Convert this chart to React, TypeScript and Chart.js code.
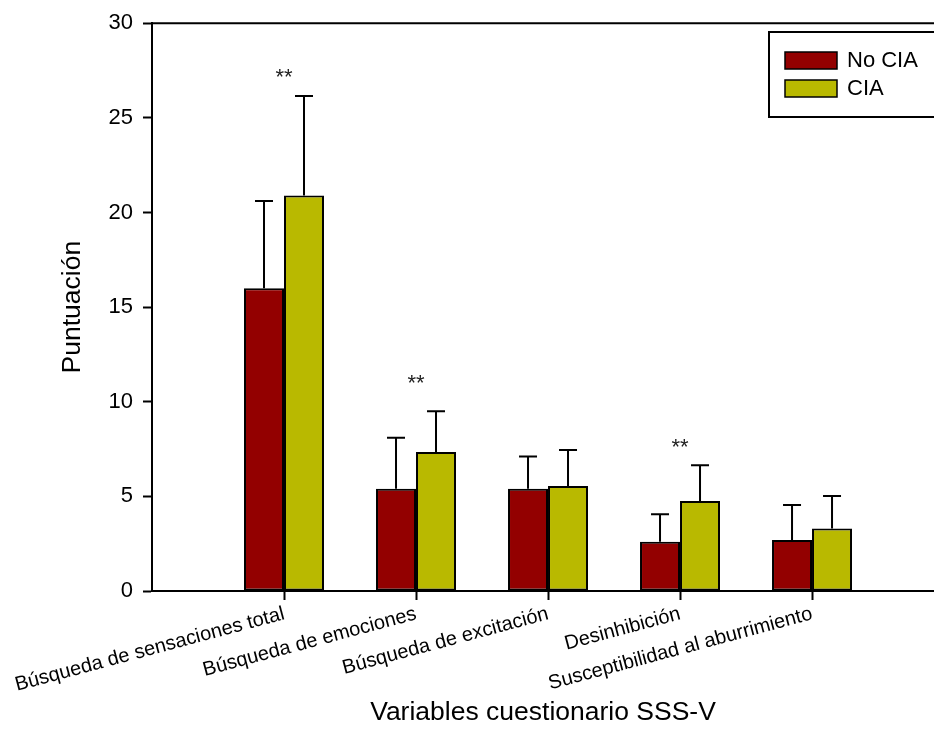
import React, { useEffect, useRef } from 'react';
import { Chart, registerables } from 'chart.js';

Chart.register(...registerables);

const categories = [
  'Búsqueda de sensaciones total',
  'Búsqueda de emociones',
  'Búsqueda de excitación',
  'Desinhibición',
  'Susceptibilidad al aburrimiento',
];
const seriesNames = ['No CIA', 'CIA'];
const noCIA = [16.0, 5.4, 5.4, 2.6, 2.7];
const noCIASd = [4.6, 2.7, 1.7, 1.45, 1.85];
const cia = [20.9, 7.35, 5.55, 4.75, 3.3];
const ciaSd = [5.25, 2.15, 1.9, 1.9, 1.72];
const significance = ['**', '**', '', '**', ''];
const significanceLevel = [27.5, 11.3, 0, 7.9, 0];
const yTickValues = [0, 5, 10, 15, 20, 25, 30];

const RED = '#930000';
const YELLOW = '#B9B900';
const FONT = '"Liberation Sans", Arial, sans-serif';

const W = 934;
const H = 753;

export default function App() {
  const ref = useRef<HTMLCanvasElement | null>(null);

  useEffect(() => {
    const canvas = ref.current;
    if (!canvas) return;
    const sds = [noCIASd, ciaSd];
    const colors = [RED, YELLOW];

    const overlay = {
      id: 'overlay',
      afterDatasetsDraw(chart: any) {
        const { ctx, chartArea, scales } = chart;
        const y = scales.y;
        const x = scales.x;
        ctx.save();
        ctx.strokeStyle = '#000';
        ctx.lineWidth = 2;
        // error bars
        chart.data.datasets.forEach((ds: any, di: number) => {
          const meta = chart.getDatasetMeta(di);
          meta.data.forEach((bar: any, i: number) => {
            const v = ds.data[i].y;
            const top = y.getPixelForValue(v + sds[di][i]);
            ctx.beginPath();
            ctx.moveTo(bar.x, bar.y);
            ctx.lineTo(bar.x, top);
            ctx.moveTo(bar.x - 9, top);
            ctx.lineTo(bar.x + 9, top);
            ctx.stroke();
          });
        });
        // top frame line
        ctx.beginPath();
        ctx.moveTo(chartArea.left, chartArea.top);
        ctx.lineTo(chartArea.right + 5, chartArea.top);
        ctx.stroke();
        // significance markers
        ctx.fillStyle = '#222';
        ctx.font = `22px ${FONT}`;
        ctx.textAlign = 'center';
        ctx.textBaseline = 'alphabetic';
        significance.forEach((s, i) => {
          if (!s) return;
          const px = x.getPixelForValue(i + 1);
          const py = y.getPixelForValue(significanceLevel[i]);
          ctx.fillText(s, px, py + 13);
        });
        // legend
        const lx = 769;
        const ly = 32;
        ctx.lineWidth = 2;
        ctx.strokeRect(lx, ly, chartArea.right + 20 - lx, 85);
        ctx.font = `22px ${FONT}`;
        ctx.textAlign = 'left';
        ctx.textBaseline = 'middle';
        seriesNames.forEach((name, i) => {
          const sy = 52 + i * 28;
          ctx.fillStyle = colors[i];
          ctx.fillRect(785, sy, 52, 17);
          ctx.lineWidth = 1.5;
          ctx.strokeRect(785, sy, 52, 17);
          ctx.fillStyle = '#000';
          ctx.fillText(name, 847, sy + 9);
        });
        ctx.restore();
      },
    };

    const chart = new Chart(canvas, {
      type: 'bar',
      data: {
        datasets: [
          {
            label: seriesNames[0],
            data: noCIA.map((v, i) => ({ x: i + 1, y: v })),
            backgroundColor: RED,
            borderColor: '#000',
            borderWidth: 2,
            borderSkipped: false,
            categoryPercentage: 0.606,
            barPercentage: 1.0,
          },
          {
            label: seriesNames[1],
            data: cia.map((v, i) => ({ x: i + 1, y: v })),
            backgroundColor: YELLOW,
            borderColor: '#000',
            borderWidth: 2,
            borderSkipped: false,
            categoryPercentage: 0.606,
            barPercentage: 1.0,
          },
        ],
      },
      options: {
        responsive: false,
        animation: false,
        layout: { padding: { top: 20, left: 0, right: 0, bottom: 0 } },
        plugins: {
          legend: { display: false },
          tooltip: { enabled: false },
        },
        scales: {
          x: {
            type: 'linear',
            min: 0,
            max: 5.924,
            offset: false,
            grid: {
              display: true,
              drawOnChartArea: false,
              drawTicks: true,
              tickLength: 9,
              tickWidth: 2,
              tickColor: (c: any) => (c.tick && c.tick.value === 0 ? 'rgba(0,0,0,0)' : '#000'),
              offset: false,
            },
            border: { display: true, color: '#000', width: 2 },
            ticks: {
              stepSize: 1,
              includeBounds: false,
              autoSkip: false,
              minRotation: 15,
              maxRotation: 15,
              padding: 2,
              color: '#000',
              font: { family: FONT, size: 20 },
              callback: (v: any) => categories[Number(v) - 1] ?? '',
            },
            title: {
              display: true,
              text: 'Variables cuestionario SSS-V',
              color: '#000',
              font: { family: FONT, size: 26.5 },
              padding: { top: 0, bottom: 24 },
            },
            afterFit: (s: any) => {
              s.height = 162;
            },
          },
          y: {
            min: 0,
            max: 30,
            grid: {
              display: true,
              drawOnChartArea: false,
              drawTicks: true,
              tickLength: 9,
              tickWidth: 2,
              tickColor: '#000',
            },
            border: { display: true, color: '#000', width: 2 },
            afterBuildTicks: (s: any) => {
              s.ticks = yTickValues.map((v) => ({ value: v }));
            },
            ticks: {
              stepSize: 5,
              padding: 10,
              color: '#000',
              font: { family: FONT, size: 22 },
            },
            title: {
              display: true,
              text: 'Puntuación',
              color: '#000',
              font: { family: FONT, size: 26.5 },
              padding: { top: 57, bottom: 0 },
            },
            afterFit: (s: any) => {
              s.width = 152;
            },
          },
        },
      } as any,
      plugins: [overlay],
    });

    return () => chart.destroy();
  }, []);

  return (
    <div style={{ position: 'absolute', left: 0, top: 0, width: W, height: H, background: '#fff' }}>
      <canvas ref={ref} width={W} height={H} style={{ display: 'block', width: W, height: H }} />
    </div>
  );
}
